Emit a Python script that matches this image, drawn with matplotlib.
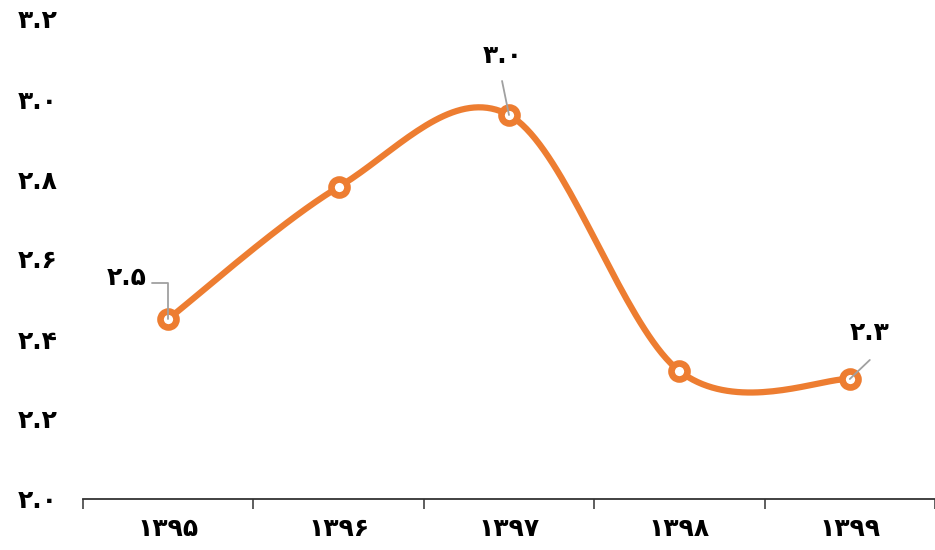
import numpy as np
import matplotlib.pyplot as plt

plt.rcParams['font.family'] = ['DejaVu Sans', 'Noto Sans']

# data
years = ['۱۳۹۵', '۱۳۹۶', '۱۳۹۷', '۱۳۹۸', '۱۳۹۹']
values = [2.45, 2.78, 2.96, 2.32, 2.30]
y_ticks = [2.0, 2.2, 2.4, 2.6, 2.8, 3.0, 3.2]
y_tick_labels = ['۲.۰', '۲.۲', '۲.۴', '۲.۶', '۲.۸', '۳.۰', '۳.۲']
# data labels shown on the chart (index, text)
point_labels = [(0, '۲.۵'), (2, '۳.۰'), (4, '۲.۳')]

orange = '#ED7D31'
gray = '#A0A0A0'


# smooth line through the points (catmull-rom -> bezier pieces)
def smooth(xs, ys, n=40):
    P = np.column_stack([xs, ys]).astype(float)
    out = []
    for i in range(len(P) - 1):
        p0 = P[i - 1] if i > 0 else P[i]
        p1 = P[i]
        p2 = P[i + 1]
        p3 = P[i + 2] if i + 2 < len(P) else P[i + 1]
        c1 = p1 + (p2 - p0) / 6
        c2 = p2 - (p3 - p1) / 6
        t = np.linspace(0, 1, n)[:, None]
        seg = ((1 - t) ** 3) * p1 + 3 * ((1 - t) ** 2) * t * c1 + 3 * (1 - t) * t ** 2 * c2 + t ** 3 * p2
        out.append(seg)
    out = np.vstack(out)
    return out[:, 0], out[:, 1]


x = np.arange(len(years))
sx, sy = smooth(x, values)

fig = plt.figure(figsize=(9.35, 5.5), dpi=100)
ax = fig.add_axes([83 / 935, 51 / 550, 852 / 935, 480 / 550])

ax.plot(sx, sy, color=orange, lw=4.5, solid_capstyle='round', zorder=2)
ax.plot(x, values, 'o', ms=11.5, mfc='white', mec=orange, mew=4.8, zorder=3)

# label text offsets and leader start offsets (points)
text_off = {0: (-30, 29.5), 2: (-4.3, 42.5), 4: (14.4, 33)}
lead_off = {0: (-12, 26), 2: (-5, 24.5), 4: (14.4, 13.7)}
styles = {0: 'angle,angleA=0,angleB=90,rad=0', 2: 'arc3', 4: 'arc3'}
for i, txt in point_labels:
    ax.annotate('', xy=(x[i], values[i]), xytext=lead_off[i], textcoords='offset points',
                arrowprops=dict(arrowstyle='-', color=gray, lw=1.3,
                                connectionstyle=styles[i], shrinkA=0, shrinkB=0),
                zorder=4)
    ax.annotate(txt, xy=(x[i], values[i]), xytext=text_off[i], textcoords='offset points',
                ha='center', va='center', fontsize=18, fontweight='bold', zorder=4)

ax.set_xlim(-0.5, 4.5 - 3 / 171)
ax.set_ylim(2.0, 3.2)
ax.set_xticks(x)
ax.set_xticklabels(years, fontsize=18, fontweight='bold')
ax.set_xticks(np.arange(-0.5, 5, 1), minor=True)
ax.tick_params(axis='x', which='major', length=0, pad=13)
ax.tick_params(axis='x', which='minor', length=7, width=1.1, color='#333333')
ax.set_yticks(y_ticks)
ax.set_yticklabels(y_tick_labels, fontsize=18, fontweight='bold')
ax.tick_params(axis='y', length=0, pad=18)

for s in ['top', 'right', 'left']:
    ax.spines[s].set_visible(False)
ax.spines['bottom'].set_color('#333333')
ax.spines['bottom'].set_linewidth(1.3)
for lab in ax.get_yticklabels():
    lab.set_clip_on(False)

fig.savefig('out.png', dpi=100)
